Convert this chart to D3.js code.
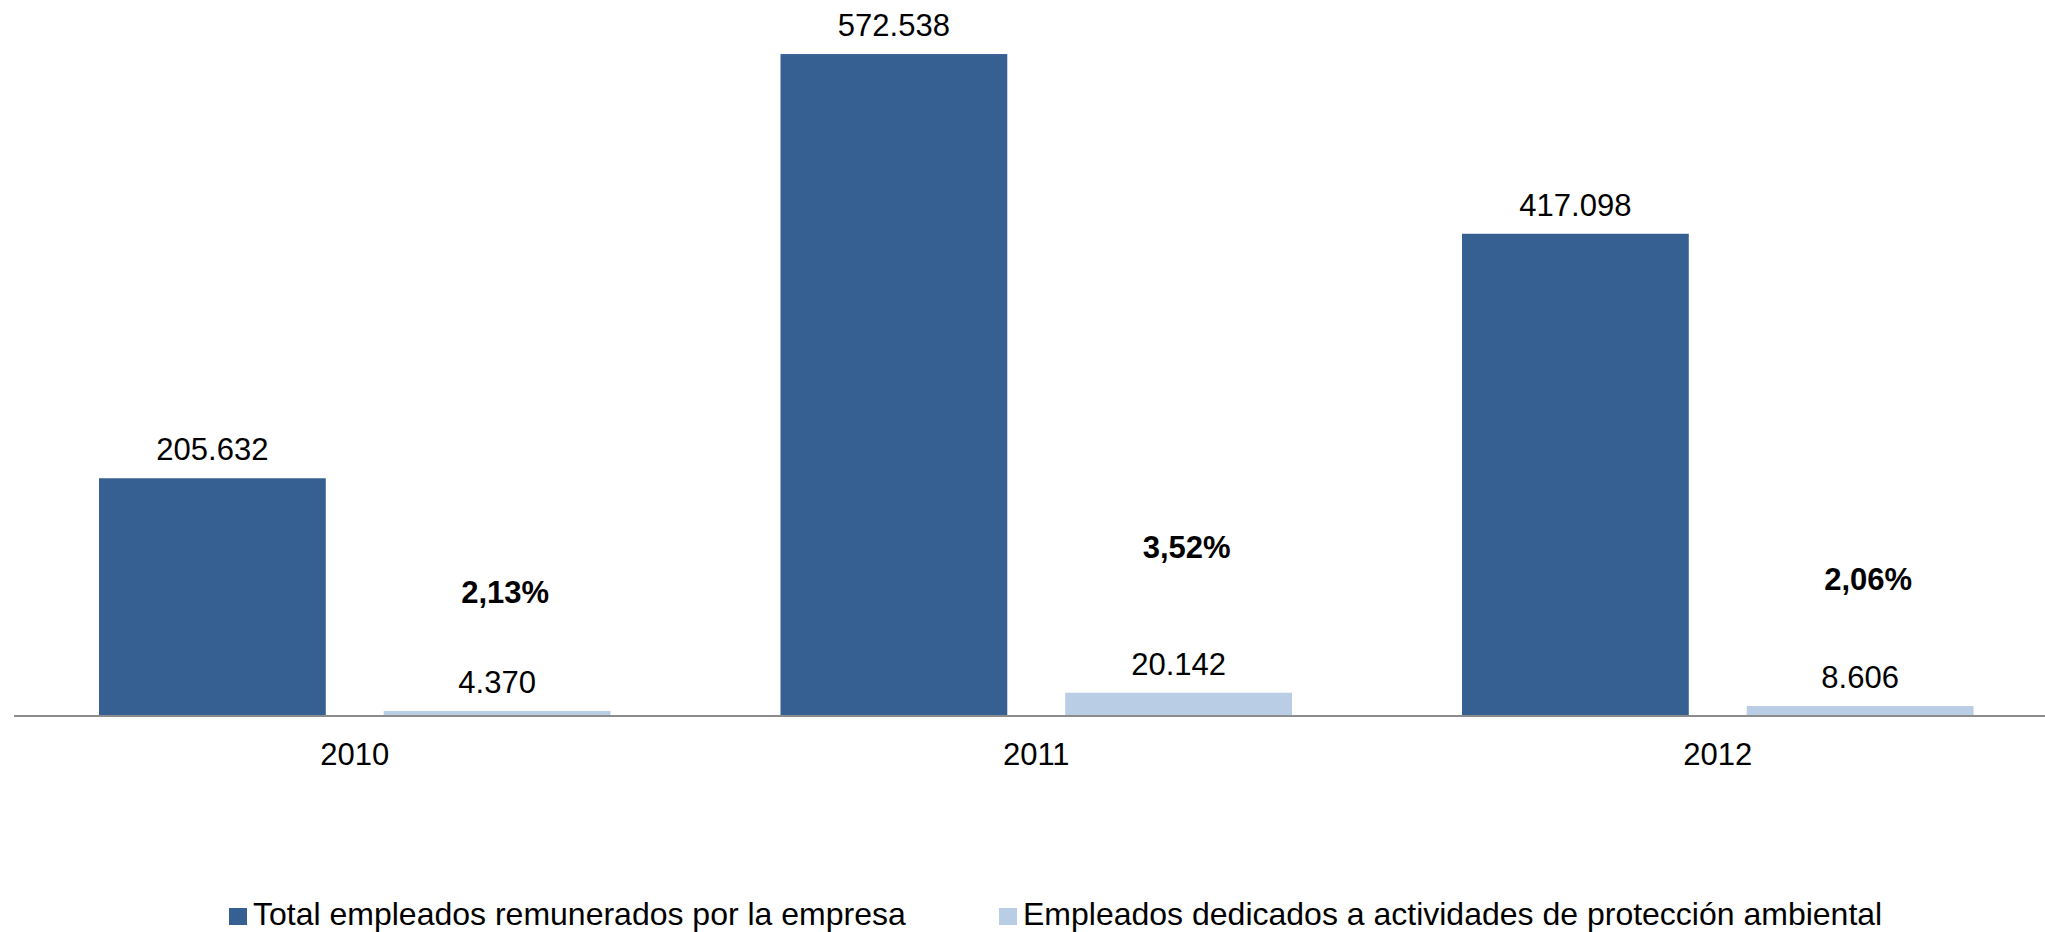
<!DOCTYPE html>
<html>
<head>
<meta charset="utf-8">
<script src="https://cdn.jsdelivr.net/npm/d3@7"></script>
<style>
  body { margin: 0; background: #fff; }
  text { font-family: "Liberation Sans", Arial, sans-serif; }
</style>
</head>
<body>
<div id="chart"></div>
<script>
// data
const years = ["2010", "2011", "2012"];
const seriesNames = ["Total empleados remunerados por la empresa", "Empleados dedicados a actividades de protección ambiental"];
const totalEmpleados = [205632, 572538, 417098];
const empleadosAmbiental = [4370, 20142, 8606];
const porcentajes = ["2,13%", "3,52%", "2,06%"];

const colors = ["#376092", "#b9cde5"];

const W = 2045, H = 932;
const svg = d3.select("#chart").append("svg").attr("width", W).attr("height", H);

const baseY = 716;

// x scales: outer per year, inner per series
const x0 = d3.scaleBand().domain(years).range([14, 2058.5]);
const x1 = d3.scaleBand().domain([0, 1]).range([85, 596.5]).paddingInner(58 / 285);

const y = d3.scaleLinear().domain([0, 600000]).range([baseY, 22.3]);

const rows = years.map((yr, i) => ({ year: yr, vals: [totalEmpleados[i], empleadosAmbiental[i]], pct: porcentajes[i] }));

const fmt = v => d3.format(",")(v).replace(/,/g, ".");

const groups = svg.selectAll("g.year")
  .data(rows)
  .enter()
  .append("g")
  .attr("class", "year")
  .attr("transform", d => "translate(" + x0(d.year) + ",0)");

groups.selectAll("rect")
  .data(d => d.vals.map((v, k) => ({ k: k, v: v })))
  .enter()
  .append("rect")
  .attr("x", d => x1(d.k))
  .attr("y", d => y(d.v))
  .attr("width", x1.bandwidth())
  .attr("height", d => baseY - y(d.v))
  .attr("fill", d => colors[d.k]);

groups.selectAll("text.val")
  .data(d => d.vals.map((v, k) => ({ k: k, v: v })))
  .enter()
  .append("text")
  .attr("class", "val")
  .attr("x", d => x1(d.k) + x1.bandwidth() / 2)
  .attr("y", d => y(d.v) - 18)
  .attr("text-anchor", "middle")
  .attr("font-size", 31)
  .attr("fill", "#000")
  .text(d => fmt(d.v));

// percentage annotations, placed by hand above the light bars
const pctLift = [108, 135, 116];
groups.append("text")
  .attr("x", x1(1) + x1.bandwidth() / 2 + 8)
  .attr("y", (d, i) => y(d.vals[1]) - pctLift[i])
  .attr("text-anchor", "middle")
  .attr("font-size", 31)
  .attr("font-weight", "bold")
  .attr("fill", "#000")
  .text(d => d.pct);

// axis
const axis = svg.append("g")
  .attr("transform", "translate(0," + baseY + ")")
  .call(d3.axisBottom(x0).tickSize(0).tickPadding(27));
axis.select(".domain").attr("stroke", "#8c8c8c").attr("stroke-width", 2).attr("d", "M14,0H2045");
axis.selectAll("text").attr("font-size", 31).attr("fill", "#000").attr("font-family", "Liberation Sans, Arial, sans-serif");

// legend
const legendX = [229, 999];
const legend = svg.selectAll("g.legend")
  .data(seriesNames)
  .enter()
  .append("g")
  .attr("class", "legend")
  .attr("transform", (d, i) => "translate(" + legendX[i] + ",0)");
legend.append("rect")
  .attr("x", 0).attr("y", 908)
  .attr("width", 18).attr("height", 17)
  .attr("fill", (d, i) => colors[i]);
legend.append("text")
  .attr("x", 24).attr("y", 925)
  .attr("font-size", 32)
  .attr("fill", "#000")
  .text(d => d);
</script>
</body>
</html>
